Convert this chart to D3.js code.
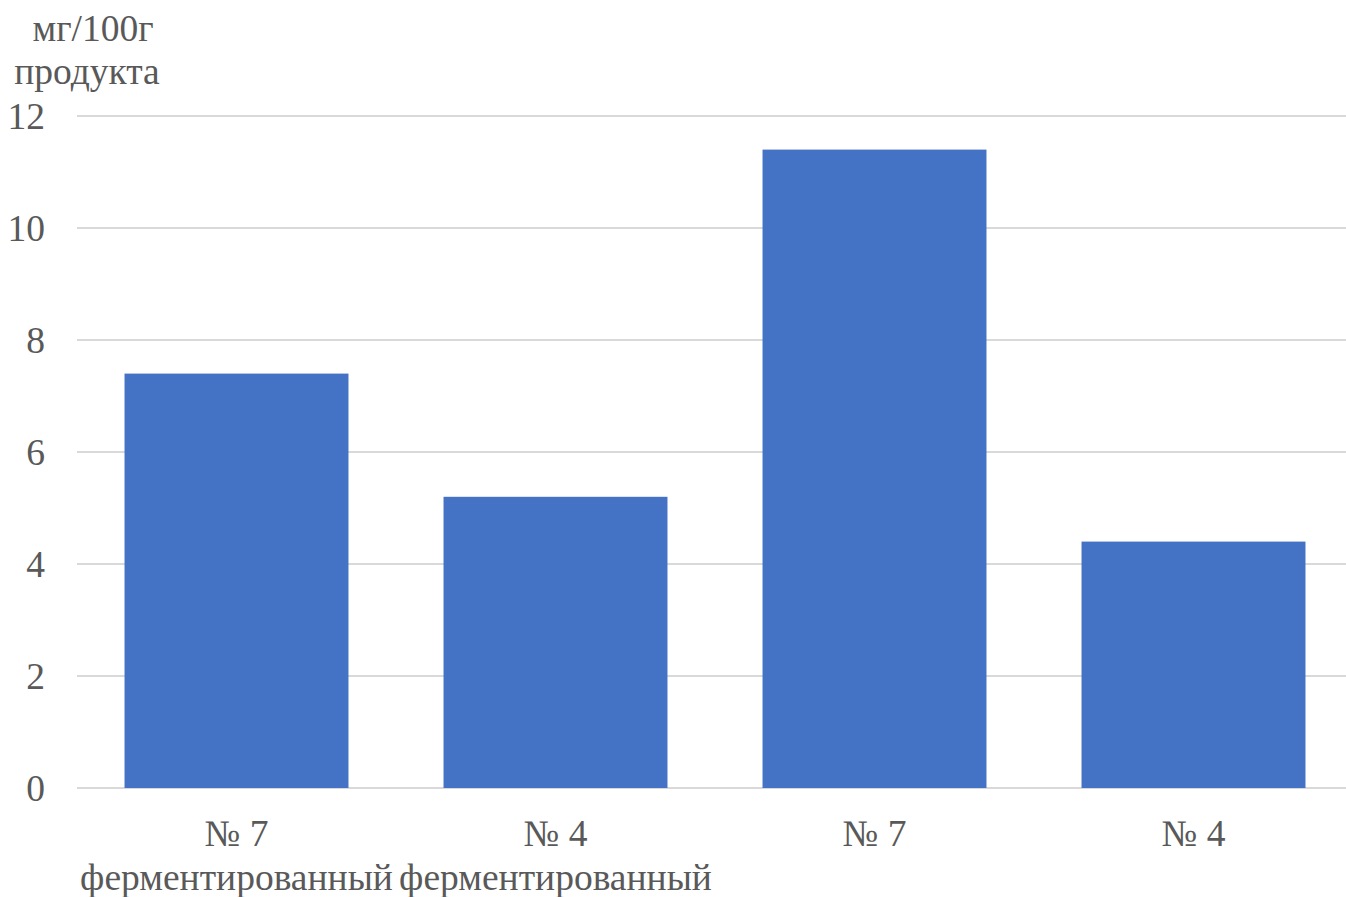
<!DOCTYPE html>
<html>
<head>
<meta charset="utf-8">
<script src="https://cdn.jsdelivr.net/npm/d3@7"></script>
<style>
  html, body { margin: 0; padding: 0; background: #fff; }
  svg text { font-family: "Liberation Serif", "Times New Roman", serif; fill: #595959; }
</style>
</head>
<body>
<svg id="chart" width="1346" height="897"></svg>
<script>
// Samples and their content, mg per 100 g of product
const categories = ["№ 7 ферментированный", "№ 4 ферментированный", "№ 7", "№ 4"];
const sampleLines = [["№ 7", "ферментированный"], ["№ 4", "ферментированный"], ["№ 7"], ["№ 4"]];
const values = [7.4, 5.2, 11.4, 4.4];
const yTicks = [0, 2, 4, 6, 8, 10, 12];
const unitLines = ["мг/100г", "продукта"];

const svg = d3.select("#chart");
const margin = { left: 77, right: -7, top: 116, bottom: 109 };
const W = 1346, H = 897;
const fontSize = 37.5;

const x = d3.scaleBand()
  .domain(categories)
  .range([margin.left, W - margin.right])
  .paddingInner(0.298)
  .paddingOuter(0.149);

const y = d3.scaleLinear()
  .domain([0, 12])
  .range([H - margin.bottom, margin.top]);

// horizontal gridlines
svg.append("g")
  .selectAll("line")
  .data(yTicks)
  .join("line")
  .attr("x1", margin.left)
  .attr("x2", W)
  .attr("y1", d => y(d))
  .attr("y2", d => y(d))
  .attr("stroke", "#d9d9d9")
  .attr("stroke-width", 2);

// y tick labels
svg.append("g")
  .selectAll("text")
  .data(yTicks)
  .join("text")
  .attr("x", 45)
  .attr("y", d => y(d))
  .attr("dy", "0.35em")
  .attr("text-anchor", "end")
  .attr("font-size", fontSize)
  .text(d => d);

// bars
svg.append("g")
  .selectAll("rect")
  .data(values)
  .join("rect")
  .attr("x", (d, i) => x(categories[i]))
  .attr("width", x.bandwidth())
  .attr("y", d => y(d))
  .attr("height", d => y(0) - y(d))
  .attr("fill", "#4472c4");

// category labels
const cat = svg.append("g")
  .selectAll("text")
  .data(sampleLines)
  .join("text")
  .attr("text-anchor", "middle")
  .attr("font-size", fontSize)
  .attr("transform", (d, i) => `translate(${x(categories[i]) + x.bandwidth() / 2},0)`);
cat.selectAll("tspan")
  .data(d => d)
  .join("tspan")
  .attr("x", 0)
  .attr("y", (d, j) => 846 + j * 44)
  .text(d => d);

// unit label
svg.append("g")
  .selectAll("text")
  .data(unitLines)
  .join("text")
  .attr("x", (d, i) => i === 0 ? 93 : 87)
  .attr("y", (d, i) => 41 + i * 43)
  .attr("text-anchor", "middle")
  .attr("font-size", fontSize)
  .text(d => d);
</script>
</body>
</html>
